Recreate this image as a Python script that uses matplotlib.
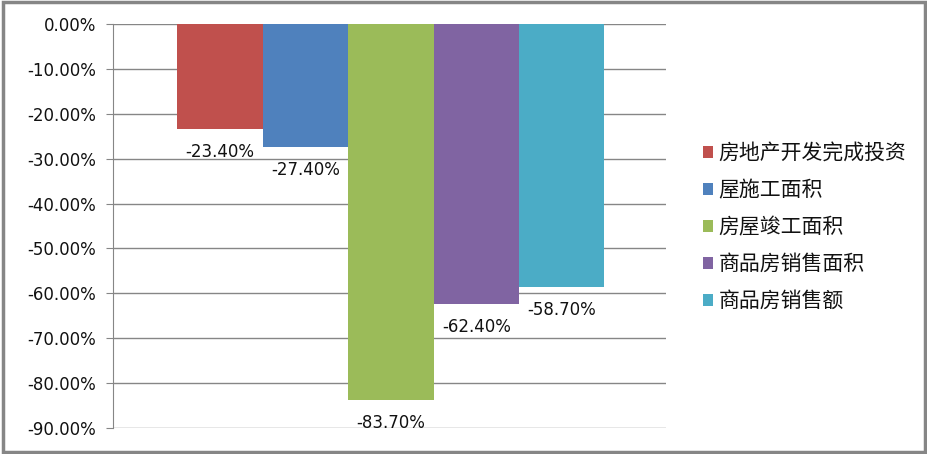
import matplotlib
matplotlib.use('Agg')
import matplotlib.pyplot as plt
from matplotlib.patches import Rectangle

# 数据
labels = ['房地产开发完成投资', '屋施工面积', '房屋竣工面积', '商品房销售面积', '商品房销售额']
values = [-23.4, -27.4, -83.7, -62.4, -58.7]
colors = ['#C0504D', '#4F81BD', '#9BBB59', '#8064A2', '#4BACC6']
yticks = [0, -10, -20, -30, -40, -50, -60, -70, -80, -90]

plt.rcParams['font.family'] = ['DejaVu Sans', 'Noto Sans CJK SC']

fig = plt.figure(figsize=(9.28, 4.54), dpi=100)
ax = fig.add_axes([113/928, 1-428/454, (666-113)/928, (428-24)/454])

for i, (lab, v, c) in enumerate(zip(labels, values, colors)):
    ax.bar(i, v, width=1.0, color=c, label=lab, zorder=3)
    ax.annotate('%.2f%%' % v, (i, v), xytext=(0, -10), textcoords='offset points',
                ha='center', va='top', fontsize=12, color='#111111', zorder=4)

ax.set_xlim(-1.25, 5.22)
ax.set_ylim(-90, 0)
ax.set_yticks(yticks)
ax.set_yticklabels(['%.2f%%' % t for t in yticks], fontsize=12, color='#111111')
ax.set_xticks([])
ax.yaxis.grid(True, color='#868686', linewidth=1, zorder=0)
for s in ['top', 'right', 'bottom']:
    ax.spines[s].set_visible(False)
ax.spines['left'].set_color('#868686')
ax.tick_params(axis='y', length=5, color='#868686', pad=7)

fig.legend(loc='center left', bbox_to_anchor=(0.737, 0.5), frameon=False,
           prop={'family': ['Noto Sans CJK SC', 'DejaVu Sans'], 'size': 15},
           labelcolor='#111111',
           handlelength=0.5, handleheight=0.5, handletextpad=0.25, labelspacing=0.72)

fig.patches.append(Rectangle((0.003, 0.005), 0.994, 0.99, transform=fig.transFigure,
                             fill=False, edgecolor='#868686', linewidth=2.5))

fig.savefig('out.png', dpi=100)
